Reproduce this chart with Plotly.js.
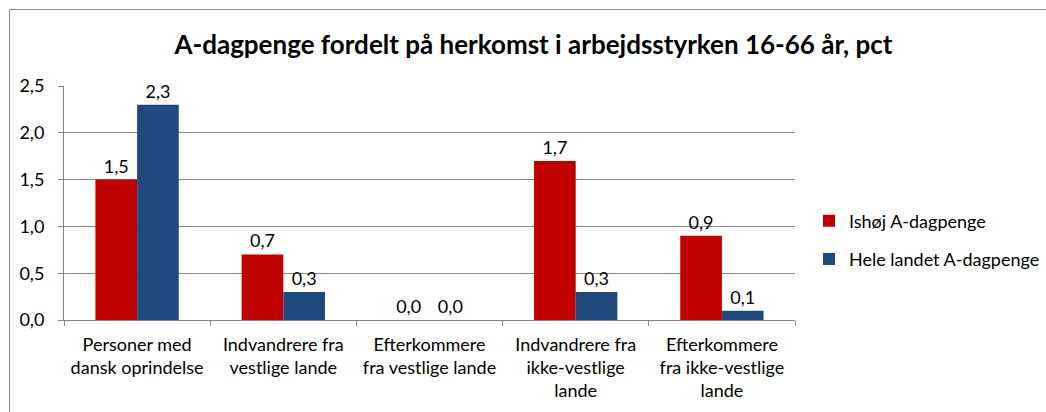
<!DOCTYPE html>
<html>
<head>
<meta charset="utf-8">
<script src="https://cdn.plot.ly/plotly-3.0.1.min.js"></script>
<style>
html,body{margin:0;padding:0;background:#fff;}
#chart{width:1046px;height:412px;}
</style>
</head>
<body>
<div id="chart"></div>
<script>
const categories = [
  "Personer med<br>dansk oprindelse",
  "Indvandrere fra<br>vestlige lande",
  "Efterkommere<br>fra vestlige lande",
  "Indvandrere fra<br>ikke-vestlige<br>lande",
  "Efterkommere<br>fra ikke-vestlige<br>lande"
];
const ishojValues = [1.5, 0.7, 0.0, 1.7, 0.9];
const heleLandetValues = [2.3, 0.3, 0.0, 0.3, 0.1];
const seriesNames = ["Ishøj A-dagpenge", "Hele landet A-dagpenge"];
const yTickValues = [0, 0.5, 1.0, 1.5, 2.0, 2.5];

const FONT = "Lato, 'Open Sans', sans-serif";
const FS = 18;
const ML = 64, MR = 251, PW = 1046 - ML - MR;
const px = p => (p - ML) / PW;
const py = p => (320 - p) / 234;
const fmt = v => v.toFixed(1).replace(".", ",");

const traces = [
  {
    type: "bar", name: seriesNames[0], x: categories, y: ishojValues,
    legendgroup: "a",
    marker: {color: "#C00000"},
    text: ishojValues.map(fmt),
    textposition: "outside", cliponaxis: false,
    textfont: {family: FONT, size: FS, color: "#000"}
  },
  {
    type: "bar", name: seriesNames[1], x: categories, y: heleLandetValues,
    legendgroup: "b",
    marker: {color: "#1F497D"},
    text: heleLandetValues.map(fmt),
    textposition: "outside", cliponaxis: false,
    textfont: {family: FONT, size: FS, color: "#000"}
  }
];

const layout = {
  width: 1046, height: 412,
  margin: {l: ML, r: MR, t: 86, b: 92, autoexpand: false},
  paper_bgcolor: "#fff", plot_bgcolor: "#fff",
  separators: ",.",
  font: {family: FONT, size: FS, color: "#000"},
  title: {
    text: "<b>A-dagpenge fordelt på herkomst i arbejdsstyrken 16-66 år, pct</b>",
    font: {family: FONT, size: 26, color: "#000"},
    x: 0.51, xanchor: "center", y: 0.89, yanchor: "middle", xref: "container", yref: "container"
  },
  barmode: "group",
  bargap: 0.43,
  bargroupgap: 0,
  xaxis: {
    type: "category",
    showline: true, linecolor: "#868686", linewidth: 1,
    ticks: "outside", tickson: "boundaries", ticklen: 5, tickcolor: "#868686",
    ticklabelstandoff: 8,
    tickfont: {family: FONT, size: FS, color: "#000"},
    showgrid: false, zeroline: false, fixedrange: true
  },
  yaxis: {
    range: [0, 2.5],
    tickvals: yTickValues,
    ticktext: yTickValues.map(fmt),
    showline: true, linecolor: "#868686", linewidth: 1,
    ticks: "outside", ticklen: 5, tickcolor: "#868686",
    ticklabelstandoff: 10,
    showgrid: true, gridcolor: "#868686", gridwidth: 1,
    zeroline: false,
    tickfont: {family: FONT, size: FS, color: "#000"},
    fixedrange: true
  },
  legend: {
    x: px(809), y: py(240), xanchor: "left", yanchor: "middle",
    font: {family: FONT, size: FS, color: "#000"},
    traceorder: "grouped",
    tracegroupgap: 12, bgcolor: "rgba(0,0,0,0)"
  },
  shapes: [{
    type: "rect", xref: "paper", yref: "paper",
    x0: px(9.5), x1: px(1060),
    y0: py(430), y1: py(9.5),
    line: {color: "#868686", width: 1}, fillcolor: "rgba(0,0,0,0)", layer: "below"
  }],
  showlegend: true
};

Plotly.newPlot("chart", traces, layout, {displayModeBar: false, staticPlot: true});
</script>
</body>
</html>
